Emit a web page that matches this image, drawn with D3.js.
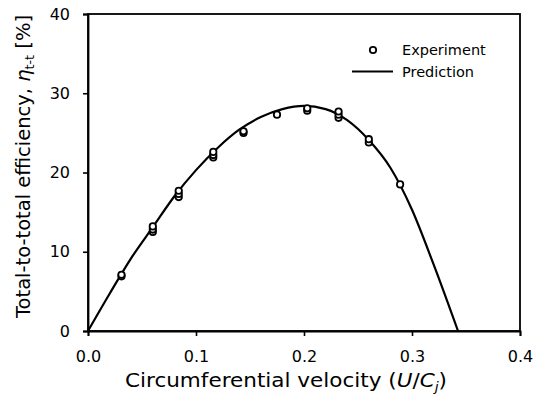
<!DOCTYPE html>
<html>
<head>
<meta charset="utf-8">
<script src="https://cdn.jsdelivr.net/npm/d3@7"></script>
<style>
  body { margin: 0; background: #fff; }
  svg { display: block; }
  text { font-family: "DejaVu Sans", Arial, sans-serif; fill: #000; }
</style>
</head>
<body>
<div id="chart"></div>
<script>
// Experiment points (U/Cj, efficiency %)
var expX = [0.031, 0.031, 0.060, 0.060, 0.060, 0.084, 0.084, 0.084, 0.116, 0.116, 0.116,
            0.144, 0.144, 0.175, 0.203, 0.203, 0.232, 0.232, 0.232, 0.260, 0.260, 0.289];
var expY = [6.9, 7.1, 12.5, 12.8, 13.2, 16.9, 17.3, 17.7, 21.9, 22.2, 22.6,
            25.0, 25.2, 27.3, 27.8, 28.1, 26.9, 27.3, 27.7, 23.8, 24.2, 18.5];

// Prediction curve
var predX = [0, 0.02, 0.04, 0.06, 0.08, 0.10, 0.12, 0.14, 0.16, 0.18, 0.20, 0.22, 0.24, 0.26, 0.28, 0.30, 0.32, 0.3426];
var predY = [0, 4.7, 9.2, 13.1, 17.0, 20.3, 23.1, 25.4, 27.0, 28.0, 28.4, 28.0, 26.6, 24.1, 20.6, 15.3, 8.4, 0];

var xTicks = [0, 0.1, 0.2, 0.3, 0.4];
var yTicks = [0, 10, 20, 30, 40];

var width = 546, height = 409;
var margin = {top: 14, right: 26, bottom: 78, left: 88};

var svg = d3.select('#chart').append('svg')
    .attr('width', width)
    .attr('height', height);

var x = d3.scaleLinear().domain([0, 0.4]).range([margin.left, width - margin.right]);
var y = d3.scaleLinear().domain([0, 40]).range([height - margin.bottom, margin.top]);

// frame
svg.append('rect')
    .attr('x', x(0))
    .attr('y', y(40))
    .attr('width', x(0.4) - x(0))
    .attr('height', y(0) - y(40))
    .attr('fill', 'none')
    .attr('stroke', '#000')
    .attr('stroke-width', 1.8);

// axes
var xAxis = svg.append('g')
    .attr('transform', 'translate(0,' + y(0) + ')')
    .call(d3.axisBottom(x).tickValues(xTicks).tickFormat(d3.format('.1f')).tickSize(5).tickPadding(15));
var yAxis = svg.append('g')
    .attr('transform', 'translate(' + x(0) + ',0)')
    .call(d3.axisLeft(y).tickValues(yTicks).tickSize(5).tickPadding(13));

[xAxis, yAxis].forEach(function(a) {
    a.select('.domain').attr('stroke-width', 1.8);
    a.selectAll('.tick line').attr('stroke-width', 1.6);
    a.selectAll('.tick text')
        .style('font-size', '16px')
        .style('font-family', '"DejaVu Sans", Arial, sans-serif');
});

// prediction line
var pred = predX.map(function(d, i) { return [d, predY[i]]; });
var line = d3.line()
    .x(function(d) { return x(d[0]); })
    .y(function(d) { return y(d[1]); })
    .curve(d3.curveMonotoneX);

svg.append('path')
    .datum(pred)
    .attr('d', line)
    .attr('fill', 'none')
    .attr('stroke', '#000')
    .attr('stroke-width', 2.2);

// experiment points
svg.selectAll('.pt')
    .data(expX)
    .enter().append('circle')
    .attr('class', 'pt')
    .attr('cx', function(d) { return x(d); })
    .attr('cy', function(d, i) { return y(expY[i]); })
    .attr('r', 3.2)
    .attr('fill', '#fff')
    .attr('stroke', '#000')
    .attr('stroke-width', 1.8);

// legend
var lg = svg.append('g');
lg.append('circle')
    .attr('cx', 373).attr('cy', 50).attr('r', 3.2)
    .attr('fill', '#fff').attr('stroke', '#000').attr('stroke-width', 1.8);
lg.append('text').attr('x', 402).attr('y', 55).style('font-size', '14.5px').text('Experiment');
lg.append('line')
    .attr('x1', 352).attr('x2', 393).attr('y1', 71.5).attr('y2', 71.5)
    .attr('stroke', '#000').attr('stroke-width', 2);
lg.append('text').attr('x', 402).attr('y', 77).style('font-size', '14.5px').text('Prediction');

// x title
var xt = svg.append('text')
    .attr('x', 125)
    .attr('y', 387)
    .attr('textLength', 322)
    .attr('lengthAdjust', 'spacingAndGlyphs')
    .style('font-size', '20px');
xt.append('tspan').text('Circumferential velocity (');
xt.append('tspan').style('font-style', 'italic').text('U');
xt.append('tspan').text('/');
xt.append('tspan').style('font-style', 'italic').text('C');
xt.append('tspan').style('font-style', 'italic').style('font-size', '13px').attr('dy', 4).text('j');
xt.append('tspan').attr('dy', -4).text(')');

// y title
var yt = svg.append('text')
    .attr('transform', 'translate(30,318) rotate(-90)')
    .attr('textLength', 303)
    .attr('lengthAdjust', 'spacingAndGlyphs')
    .style('font-size', '20px');
yt.append('tspan').text('Total-to-total efficiency,  ');
yt.append('tspan').style('font-style', 'italic').text('η');
yt.append('tspan').style('font-size', '13px').attr('dy', 4).text('t-t');
yt.append('tspan').attr('dy', -4).text(' [%]');
</script>
</body>
</html>
